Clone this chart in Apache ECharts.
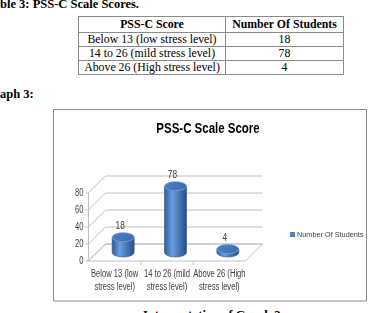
<!DOCTYPE html>
<html>
<head>
<meta charset="utf-8">
<script src="https://cdn.jsdelivr.net/npm/echarts@6/dist/echarts.min.js"></script>
<style>
  html, body { margin: 0; padding: 0; background: #fff; }
  #page { position: relative; width: 372px; height: 313px; overflow: hidden; font-family: 'Liberation Serif', serif; color: #000; }
  .head { position: absolute; left: 0; font-weight: bold; font-size: 12.5px; line-height: 14px; white-space: nowrap; }
  #tbl { position: absolute; left: 78px; top: 16px; border-collapse: collapse; font-size: 11.8px; }
  #tbl td, #tbl th { border: 1px solid #8a8a8a; padding: 0; text-align: center; height: 13px; line-height: 13px; white-space: nowrap; }
  #tbl th { height: 15px; }
  #chart { position: absolute; left: 0; top: 0; width: 372px; height: 313px; }
</style>
</head>
<body>
<div id="page">
  <div class="head" style="top:-3px">ble 3: PSS-C Scale Scores.</div>
  <table id="tbl">
    <thead><tr><th style="width:146px">PSS-C Score</th><th style="width:117px">Number Of Students</th></tr></thead>
    <tbody></tbody>
  </table>
  <div class="head" style="top:87px">aph 3:</div>
  <div class="head" style="top:308px;left:143px">Interpretation of Graph 3</div>
  <div id="chart"></div>
</div>
<script>
// data
const categories = ['Below 13 (low stress level)', '14 to 26 (mild stress level)', 'Above 26 (High stress level)']
const students = [18, 78, 4]
const yTicks = [0, 20, 40, 60, 80]
const seriesName = 'Number Of Students'
const chartTitle = 'PSS-C Scale Score'

// table
const tbody = document.querySelector('#tbl tbody')
categories.forEach((c, i) => {
  const tr = document.createElement('tr')
  tr.innerHTML = '<td>' + c + '</td><td>' + students[i] + '</td>'
  tbody.appendChild(tr)
})

const FONT = "'Liberation Sans', Arial, sans-serif"
const NARROW = 0.76 // squeeze Arial towards Calibri widths
const D = 8.5 // depth offset for the fake 3d
const GRID_COLOR = '#bfbfbf'
const TEXT_COLOR = '#404040'

const chart = echarts.init(document.getElementById('chart'))

function narrowText(x, y, text, size, align, vAlign, extra) {
  return Object.assign({
    type: 'text',
    x: x,
    y: y,
    scaleX: NARROW,
    style: {
      x: 0, y: 0, text: text,
      align: align, verticalAlign: vAlign,
      font: size + 'px ' + FONT, fill: TEXT_COLOR
    }
  }, extra || {})
}

function renderFrame(params, api) {
  const cs = params.coordSys
  const v = api.value(1)
  const y = api.coord([0, v])[1]
  const children = [{
    type: 'polyline',
    shape: { points: [[cs.x - D, y + D], [cs.x + D, y - D], [cs.x + cs.width + D, y - D]] },
    style: { stroke: GRID_COLOR, fill: null, lineWidth: 1 }
  }, {
    type: 'line',
    shape: { x1: cs.x - D - 3, y1: y + D, x2: cs.x - D, y2: y + D },
    style: { stroke: GRID_COLOR, lineWidth: 1 }
  },
  narrowText(cs.x - D - 5, y + D, String(v), 10, 'right', 'middle')]

  if (v === 0) {
    const top = api.coord([0, yTicks[yTicks.length - 1]])[1]
    children.push({
      type: 'polygon',
      shape: { points: [[cs.x - D, y + D], [cs.x + cs.width - D, y + D], [cs.x + cs.width + D, y - D], [cs.x + D, y - D]] },
      style: { stroke: GRID_COLOR, fill: null, lineWidth: 1 }
    }, {
      type: 'line',
      shape: { x1: cs.x - D, y1: y + D, x2: cs.x - D, y2: top + D },
      style: { stroke: GRID_COLOR, lineWidth: 1 }
    })
    for (let k = 1; k < categories.length; k++) {
      const bx = cs.x + k * cs.width / categories.length - D
      children.push({
        type: 'line',
        shape: { x1: bx, y1: y + D, x2: bx, y2: y + D + 4 },
        style: { stroke: GRID_COLOR, lineWidth: 1 }
      })
    }
    // category labels sit on the front edge of the floor
    categories.forEach((c, k) => {
      const cx = api.coord([k, 0])[0] - D
      const t = narrowText(cx, y + D + 7, c.replace(' stress', '\nstress'), 10, 'center', 'top')
      t.style.lineHeight = 13
      children.push(t)
    })
  }
  return { type: 'group', children }
}

function renderCylinder(params, api) {
  const i = api.value(0)
  const v = api.value(1)
  const top = api.coord([i, v])
  const base = api.coord([i, 0])
  const w = api.size([1, 0])[0] * 0.42
  const rx = w / 2
  const ry = 4.5
  const l = top[0] - rx
  const r = top[0] + rx
  const bodyFill = new echarts.graphic.LinearGradient(0, 0, 1, 0, [
    { offset: 0, color: '#2c5a98' },
    { offset: 0.35, color: '#6b9ddd' },
    { offset: 1, color: '#234d86' }
  ])
  return {
    type: 'group',
    children: [{
      type: 'path',
      shape: {
        pathData: 'M' + l + ' ' + top[1] + ' L' + l + ' ' + base[1] +
          ' A' + rx + ' ' + ry + ' 0 0 0 ' + r + ' ' + base[1] +
          ' L' + r + ' ' + top[1] + ' Z'
      },
      style: { fill: bodyFill, stroke: '#2a5690', lineWidth: 0.6 }
    }, {
      type: 'path',
      shape: {
        pathData: 'M' + l + ' ' + top[1] +
          ' A' + rx + ' ' + ry + ' 0 1 0 ' + r + ' ' + top[1] +
          ' A' + rx + ' ' + ry + ' 0 1 0 ' + l + ' ' + top[1] + ' Z'
      },
      style: {
        fill: new echarts.graphic.LinearGradient(0, 0, 1, 1, [
          { offset: 0, color: '#4a7ec2' },
          { offset: 1, color: '#3c6cae' }
        ]),
        stroke: '#6f9fdc', lineWidth: 0.8
      }
    },
    narrowText(top[0] - 3, top[1] - ry - 1, String(v), 11, 'center', 'bottom')]
  }
}

const option = {
  animation: false,
  legend: {
    data: [seriesName],
    left: 285,
    top: 226,
    icon: 'rect',
    itemWidth: 5,
    itemHeight: 5,
    itemGap: 2,
    textStyle: { fontFamily: FONT, fontSize: 7.3, color: TEXT_COLOR, padding: [0, 0, 0, -3] }
  },
  grid: {
    left: 97,
    right: 118,
    top: 184.5,
    bottom: 60.5
  },
  xAxis: {
    type: 'category',
    data: categories,
    axisLine: { show: false },
    axisTick: { show: false },
    axisLabel: { show: false }
  },
  yAxis: {
    type: 'value',
    min: 0,
    max: 80,
    interval: 20,
    axisLine: { show: false },
    axisTick: { show: false },
    axisLabel: { show: false },
    splitLine: { show: false }
  },
  graphic: [{
    type: 'rect',
    shape: { x: 53.5, y: 109.5, width: 313, height: 191.5 },
    style: { fill: null, stroke: '#8c8c8c', lineWidth: 1 },
    z: 0
  }, {
    type: 'text',
    x: 208,
    y: 129,
    scaleX: 0.74,
    style: {
      text: chartTitle,
      align: 'center',
      verticalAlign: 'middle',
      font: 'bold 15.5px ' + FONT,
      fill: '#000'
    }
  }],
  series: [{
    type: 'custom',
    silent: true,
    clip: false,
    z: 1,
    renderItem: renderFrame,
    data: yTicks.map(v => [0, v])
  }, {
    name: seriesName,
    type: 'custom',
    clip: false,
    z: 2,
    itemStyle: { color: '#4f81bd' },
    renderItem: renderCylinder,
    data: students.map((v, i) => [i, v])
  }]
}

chart.setOption(option)
</script>
</body>
</html>
